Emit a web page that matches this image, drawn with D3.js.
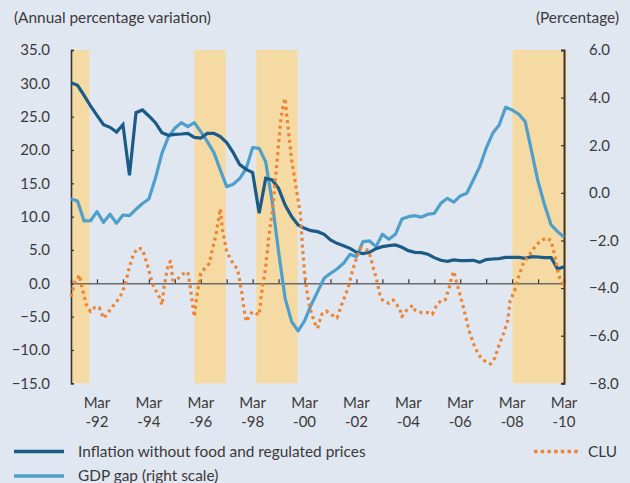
<!DOCTYPE html>
<html>
<head>
<meta charset="utf-8">
<script src="https://cdn.jsdelivr.net/npm/d3@7/dist/d3.min.js"></script>
<style>
  html, body { margin: 0; padding: 0; background: #e1e7f1; }
  svg { display: block; }
  text { font-family: Lato, "Open Sans", sans-serif; fill: #3a3a3a; }
</style>
</head>
<body>
<svg id="chart" width="630" height="483"></svg>
<script>
// ---------- DATA ----------
const startQuarter = "1991-03";           // first quarterly observation
const endQuarter = "2010-03";
const inflation = [30.1, 29.7, 28.2, 26.6, 25.2, 23.8, 23.4, 22.7, 23.8, 16.2,
  25.6, 26.0, 25.1, 24.1, 22.6, 22.2, 22.35, 22.4, 22.5, 21.9,
  21.8, 22.5, 22.5, 22.0, 21.1, 19.6, 17.8, 17.1, 16.6, 10.5,
  15.75, 15.5, 14.25, 11.75, 10.0, 8.75, 8.25, 7.9, 7.75, 7.35,
  6.5, 6.0, 5.65, 5.25, 4.65, 4.45, 4.65, 5.2, 5.5, 5.65,
  5.75, 5.4, 4.9, 4.65, 4.6, 4.35, 3.85, 3.45, 3.3, 3.5,
  3.4, 3.4, 3.45, 3.15, 3.55, 3.65, 3.7, 3.9, 3.9, 3.9,
  3.75, 4.0, 3.95, 3.85, 3.85, 2.15, 2.5];
const gdpGap = [-0.26, -0.34, -1.18, -1.17, -0.79, -1.24, -0.9, -1.28, -0.93, -0.96,
  -0.69, -0.45, -0.26, 0.61, 1.66, 2.35, 2.71, 2.95, 2.78, 2.95,
  2.57, 2.15, 1.7, 0.96, 0.26, 0.36, 0.61, 1.03, 1.9, 1.87,
  1.3, -0.37, -2.47, -4.43, -5.41, -5.8, -5.38, -4.71, -4.15, -3.59,
  -3.38, -3.2, -2.96, -2.58, -2.68, -2.05, -2.02, -2.26, -1.74, -1.95,
  -1.74, -1.1, -1.0, -0.96, -1.02, -0.9, -0.86, -0.44, -0.23, -0.39,
  -0.13, -0.02, 0.54, 1.1, 1.87, 2.5, 2.85, 3.6, 3.48, 3.31,
  2.99, 1.73, 0.47, -0.51, -1.35, -1.63, -1.86];
const cluMonths = ["1991-03","1991-05","1991-07","1991-08","1991-10","1991-12","1992-02","1992-04","1992-06","1992-09",
  "1992-12","1993-02","1993-04","1993-06","1993-08","1993-10","1993-12","1994-02","1994-04","1994-05",
  "1994-08","1994-09","1994-10","1994-12","1995-01","1995-02","1995-04","1995-06","1995-09","1995-10",
  "1995-11","1995-12","1996-01","1996-03","1996-05","1996-07","1996-08","1996-10","1996-11","1996-12",
  "1997-01","1997-03","1997-06","1997-08","1997-09","1997-10","1997-11","1997-12","1998-02","1998-03",
  "1998-06","1998-07","1998-09","1998-10","1998-11","1998-12","1999-01","1999-02","1999-03","1999-04",
  "1999-05","1999-06","1999-07","1999-08","1999-09","1999-10","1999-11","1999-12","2000-01","2000-02",
  "2000-03","2000-04","2000-05","2000-06","2000-07","2000-08","2000-09","2000-10","2000-11","2001-01",
  "2001-03","2001-06","2001-08","2001-11","2002-01","2002-03","2002-05","2002-07","2002-08","2002-09",
  "2002-10","2002-11","2002-12","2003-01","2003-02","2003-03","2003-06","2003-08","2003-11","2003-12",
  "2004-02","2004-05","2004-06","2004-09","2004-12","2005-02","2005-04","2005-06","2005-08","2005-10",
  "2005-11","2005-12","2006-01","2006-03","2006-05","2006-07","2006-09","2006-11","2007-01","2007-03",
  "2007-05","2007-07","2007-09","2007-11","2008-01","2008-02","2008-04","2008-06","2008-08","2008-11",
  "2009-02","2009-05","2009-07","2009-09","2009-10","2009-11","2009-12","2010-01","2010-03"];
const cluValues = [-2.0, 0.3, 1.25, -0.5, -3.2, -4.25, -3.6, -3.6, -5.25, -4.0,
  -2.75, -1.75, -0.25, 2.5, 4.5, 5.3, 5.1, 3.0, 0.7, -0.3,
  -2.2, -3.25, -0.5, 3.0, 3.3, 0.5, 0.5, 1.3, 1.7, -0.25,
  -2.75, -5.0, -2.25, 1.5, 2.3, 3.0, 4.6, 7.3, 9.3, 11.2,
  8.0, 4.75, 2.9, 2.1, 0.25, -1.5, -4.0, -5.75, -4.6, -4.25,
  -4.75, -1.75, 2.5, 5.5, 8.5, 10.5, 14.0, 17.5, 21.0, 24.5,
  26.5, 27.75, 24.5, 21.5, 18.5, 16.5, 14.5, 12.5, 10.5, 5.5,
  1.5, -1.0, -3.0, -4.3, -5.25, -6.2, -6.75, -5.6, -4.6, -4.15,
  -4.6, -5.2, -3.3, -0.8, 1.75, 3.75, 5.3, 5.2, 5.0, 4.5,
  3.3, 2.0, 1.0, -0.5, -2.0, -2.5, -3.0, -2.5, -3.8, -5.0,
  -4.1, -3.3, -4.0, -4.4, -4.4, -4.65, -3.3, -2.6, -2.5, -0.5,
  1.0, 1.8, 0.5, -1.8, -4.3, -7.0, -9.0, -10.4, -11.4, -11.75,
  -12.1, -11.2, -9.2, -7.5, -5.5, -2.6, -1.2, 1.0, 2.9, 4.3,
  5.75, 6.5, 6.8, 6.4, 5.0, 3.7, 2.0, 0.7, -0.5];
const bandStarts = ["1991-03-01", "1995-12-01", "1998-04-20", "2008-03-05"];
const bandEnds   = ["1991-11-15", "1997-02-15", "1999-11-25", "2010-04-08"];
const leftTicks  = [-15, -10, -5, 0, 5, 10, 15, 20, 25, 30, 35];
const rightTicks = [-8, -6, -4, -2, 0, 2, 4, 6];
const xLabelYears = ["-92", "-94", "-96", "-98", "-00", "-02", "-04", "-06", "-08", "-10"];
const xLabelDates = ["1992-03", "1994-03", "1996-03", "1998-03", "2000-03", "2002-03", "2004-03", "2006-03", "2008-03", "2010-03"];
const seriesNames = ["Inflation without food and regulated prices", "GDP gap (right scale)", "CLU"];
const leftTitle = "(Annual percentage variation)";
const rightTitle = "(Percentage)";

// ---------- SETUP ----------
const parseM = d3.timeParse("%Y-%m");
const parseD = d3.timeParse("%Y-%m-%d");
const colors = { infl: "#1b5b88", gdp: "#4e9fcb", clu: "#ee8432", band: "#f6daa3" };
const FS = 15;

const svg = d3.select("#chart");
const L = 71, R = 564, T = 50, B = 383.3;

const x = d3.scaleTime().domain([parseM(startQuarter), parseM(endQuarter)]).range([L, R]);
const yL = d3.scaleLinear().domain([-15, 35]).range([B, T]);
const yR = d3.scaleLinear().domain([-8, 6]).range([B, T]);

const quarters = inflation.map((_, i) => d3.timeMonth.offset(parseM(startQuarter), 3 * i));

svg.append("rect").attr("width", 630).attr("height", 483).attr("fill", "#e1e7f1");

// bands
svg.append("g").selectAll("rect").data(bandStarts).join("rect")
  .attr("x", (d) => x(parseD(d)))
  .attr("width", (d, i) => x(parseD(bandEnds[i])) - x(parseD(d)))
  .attr("y", T).attr("height", B - T)
  .attr("fill", colors.band);

// x axis at zero
const xAxis = d3.axisBottom(x)
  .tickValues(d3.range(1992, 2011).map(y => parseM(y + "-03")))
  .tickSize(-4).tickFormat("");
const gx = svg.append("g").attr("transform", `translate(0,${yL(0)})`).call(xAxis);
gx.select(".domain").attr("stroke", "#6b6b6b").attr("stroke-width", 1.6);
gx.selectAll(".tick line").attr("stroke", "#333").attr("stroke-width", 1.2);

// left axis
const gl = svg.append("g").attr("transform", `translate(${L},0)`)
  .call(d3.axisLeft(yL).tickValues(leftTicks).tickSize(-3).tickPadding(21).tickFormat(d3.format(".1f")));
gl.select(".domain").attr("stroke", "#333").attr("stroke-width", 1.6);
gl.selectAll(".tick line").attr("stroke", "#333").attr("stroke-width", 1.2);
gl.selectAll("text").attr("font-size", FS).attr("fill", "#3a3a3a").style("font-family", "Lato, sans-serif");

// right axis
const gr = svg.append("g").attr("transform", `translate(${R},0)`)
  .call(d3.axisRight(yR).tickValues(rightTicks).tickSize(-3).tickPadding(25).tickFormat(d3.format(".1f")));
gr.select(".domain").attr("stroke", "#3b3530").attr("stroke-width", 2);
gr.selectAll(".tick line").attr("stroke", "#333").attr("stroke-width", 1.2);
gr.selectAll("text").attr("font-size", FS).attr("fill", "#3a3a3a").style("font-family", "Lato, sans-serif");

// lines
const lineGdp = d3.line().x((d, i) => x(quarters[i])).y(d => yR(d));
const lineInf = d3.line().x((d, i) => x(quarters[i])).y(d => yL(d));
const lineClu = d3.line().x((d, i) => x(parseM(cluMonths[i]))).y(d => yL(d));

svg.append("path").datum(gdpGap).attr("d", lineGdp)
  .attr("fill", "none").attr("stroke", colors.gdp).attr("stroke-width", 3.2).attr("stroke-linejoin", "round");
svg.append("path").datum(inflation).attr("d", lineInf)
  .attr("fill", "none").attr("stroke", colors.infl).attr("stroke-width", 3.2);
svg.append("path").datum(cluValues).attr("d", lineClu)
  .attr("fill", "none").attr("stroke", colors.clu).attr("stroke-width", 3.2)
  .attr("stroke-dasharray", "3,3.6").attr("stroke-linejoin", "round");

// x labels
const xl = svg.append("g");
xl.selectAll("text.m").data(xLabelDates).join("text").attr("class", "m")
  .attr("x", d => x(parseM(d))).attr("y", 403).attr("dy", "0.35em")
  .attr("text-anchor", "middle").attr("font-size", FS).text("Mar");
xl.selectAll("text.y").data(xLabelDates).join("text").attr("class", "y")
  .attr("x", d => x(parseM(d))).attr("y", 422).attr("dy", "0.35em")
  .attr("text-anchor", "middle").attr("font-size", FS).text((d, i) => xLabelYears[i]);

// titles
svg.append("text").attr("x", 14).attr("y", 18).attr("dy", "0.35em").attr("font-size", 15.4).text(leftTitle);
svg.append("text").attr("x", 619).attr("y", 18).attr("dy", "0.35em").attr("text-anchor", "end").attr("font-size", 15.4).text(rightTitle);

// legend
const lg = svg.append("g");
lg.append("line").attr("x1", 14).attr("x2", 64).attr("y1", 451.5).attr("y2", 451.5)
  .attr("stroke", colors.infl).attr("stroke-width", 3.5);
lg.append("text").attr("x", 78).attr("y", 451.5).attr("dy", "0.35em").attr("font-size", 15.4).text(seriesNames[0]);
lg.append("line").attr("x1", 14).attr("x2", 64).attr("y1", 476).attr("y2", 476)
  .attr("stroke", colors.gdp).attr("stroke-width", 3.5);
lg.append("text").attr("x", 78).attr("y", 476).attr("dy", "0.35em").attr("font-size", 15.4).text(seriesNames[1]);
lg.append("line").attr("x1", 534).attr("x2", 581).attr("y1", 451.5).attr("y2", 451.5)
  .attr("stroke", colors.clu).attr("stroke-width", 3.5).attr("stroke-dasharray", "3.5,3.2");
lg.append("text").attr("x", 588).attr("y", 451.5).attr("dy", "0.35em").attr("font-size", 15.4).text(seriesNames[2]);
</script>
</body>
</html>
